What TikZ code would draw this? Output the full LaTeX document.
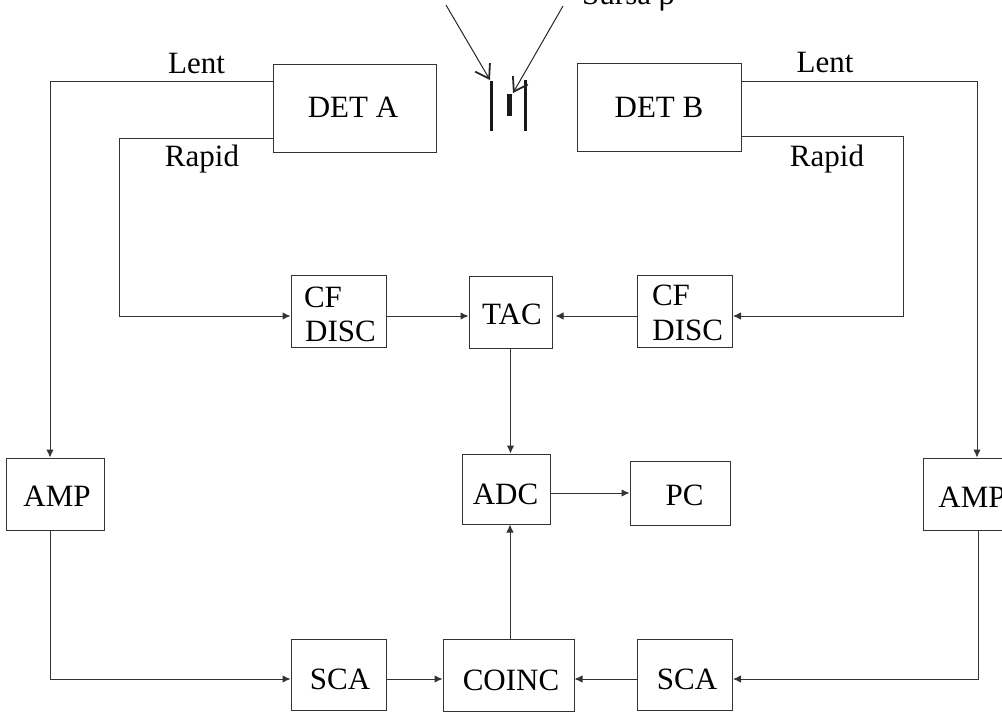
\documentclass[tikz,border=0pt]{standalone}
\usepackage{fontspec}
\setmainfont{Liberation Serif}
\usetikzlibrary{arrows.meta}
\newcommand{\muta}[3]{\hspace*{#1}\raisebox{-#2}[0pt][0pt]{\makebox[0pt]{#3}}\hspace*{-#1}}
\tikzset{
  blok/.style={draw=black!80,line width=1pt,inner sep=0pt,font=\fontsize{31}{33}\selectfont},
  eticheta/.style={inner sep=0pt,anchor=base,font=\fontsize{31}{33}\selectfont},
  leg/.style={draw=black!80,line width=1pt,-{Latex[length=8pt,width=7.5pt]}},
  sageata/.style={draw=black!85,line width=1pt,-{Straight Barb[length=13pt,width=17pt,line width=1.8pt]}},
  placa/.style={line width=2.2pt,black!90}
}
\begin{document}
\begin{tikzpicture}[x=1pt,y=-1pt]
\useasboundingbox (0,0) rectangle (1002,715);
\clip (0,0) rectangle (1002,715);
% detectors
\node[blok,minimum width=163pt,minimum height=88pt] (detA) at (354.5,108) {\muta{-1.5pt}{9pt}{DET A}};
\node[blok,minimum width=164pt,minimum height=88pt] (detB) at (659,107) {\muta{0pt}{10pt}{DET B}};
% middle row
\node[blok,minimum width=95pt,minimum height=72pt] (cfA) at (338.5,311.5) {\muta{-15.5pt}{-4.5pt}{CF}\muta{2pt}{29.5pt}{DISC}};
\node[blok,minimum width=83pt,minimum height=72pt] (tac) at (510.5,312) {\muta{1.5pt}{12.5pt}{TAC}};
\node[blok,minimum width=95pt,minimum height=72pt] (cfB) at (685,311) {\muta{-14pt}{-6pt}{CF}\muta{2.7pt}{29pt}{DISC}};
\node[blok,minimum width=88pt,minimum height=70pt] (adc) at (506,489) {\muta{-.5pt}{15pt}{ADC}};
\node[blok,minimum width=100pt,minimum height=64pt] (pc) at (680,493) {\muta{4.5pt}{12pt}{PC}};
\node[blok,minimum width=98pt,minimum height=72pt] (ampA) at (55,494) {\muta{2pt}{12.5pt}{AMP}};
\node[blok,minimum width=98pt,minimum height=72pt] (ampB) at (972,494) {\muta{0pt}{13pt}{AMP}};
% bottom row
\node[blok,minimum width=95pt,minimum height=71pt] (scaA) at (338.5,674.5) {\muta{1.5pt}{14.5pt}{SCA}};
\node[blok,minimum width=131pt,minimum height=72pt] (coinc) at (508.5,675) {\muta{2.5pt}{15pt}{COINC}};
\node[blok,minimum width=95pt,minimum height=71pt] (scaB) at (685,674.5) {\muta{2pt}{14.5pt}{SCA}};
% labels
\node[eticheta] (lentA) at (196.5,73) {Lent};
\node[eticheta] (rapidA) at (202,166) {Rapid};
\node[eticheta] (lentB) at (825,72) {Lent};
\node[eticheta] (rapidB) at (827,166) {Rapid};
\node[eticheta,anchor=base west] (sursa) at (582,4) {Sursa β};
% source
\coordinate (sursaA) at (446,5);
\coordinate (sursaB) at (563,6);
\coordinate (tintaA) at (490,80);
\coordinate (tintaB) at (513,93);
\coordinate (cotA) at (119,316);
\coordinate (cotB) at (903,316);
\draw[placa] (491.5,81) -- (491.5,131);
\draw[placa] (525.5,80) -- (525.5,131);
\draw[line width=5pt,black!90] (509.5,94) -- (509.5,116);
\draw[sageata] (sursaA) -- (tintaA);
\draw[sageata] (sursaB) -- (tintaB);
% connectors
\draw[leg] ([yshift=27pt]detA.west) -| ([xshift=-5pt]ampA.north);
\draw[leg] ([yshift=-30pt]detA.west) -| (cotA) -- ([yshift=-4.5pt]cfA.west);
\draw[leg] ([yshift=26pt]detB.east) -| ([xshift=5pt]ampB.north);
\draw[leg] ([yshift=-29pt]detB.east) -| (cotB) -- ([yshift=-5pt]cfB.east);
\draw[leg] ([yshift=-4.5pt]cfA.east) -- ([yshift=-4pt]tac.west);
\draw[leg] ([yshift=-5pt]cfB.west) -- ([yshift=-4pt,xshift=3pt]tac.east);
\draw[leg] (tac.south) -- ([xshift=4.5pt]adc.north);
\draw[leg] (adc.east |- pc.west) -- (pc.west);
\draw[leg] ([xshift=1.5pt]coinc.north) -- ([xshift=4pt]adc.south);
\draw[leg] ([xshift=-5pt]ampA.south) |- ([yshift=-4.5pt]scaA.west);
\draw[leg] ([xshift=6pt]ampB.south) |- ([yshift=-4.5pt]scaB.east);
\draw[leg] ([yshift=-4.5pt]scaA.east) -- ([yshift=-4pt]coinc.west);
\draw[leg] ([yshift=-4.5pt]scaB.west) -- ([yshift=-4pt]coinc.east);
\end{tikzpicture}
\end{document}
